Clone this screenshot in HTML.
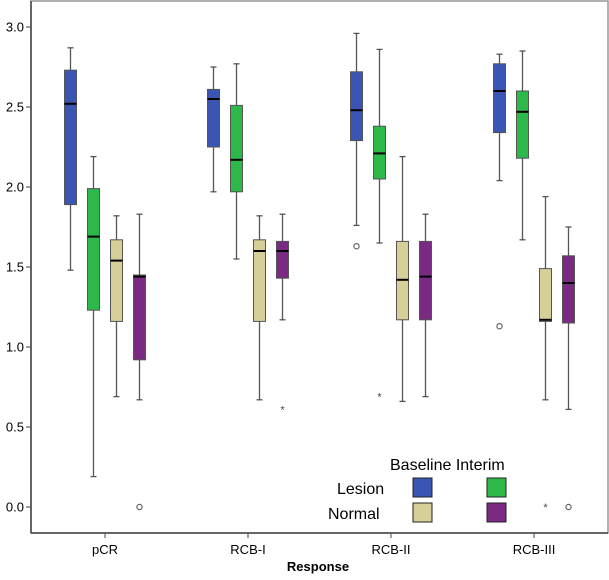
<!DOCTYPE html>
<html><head><meta charset="utf-8"><style>
body{margin:0;background:#fff;font-family:"Liberation Sans",sans-serif}
svg text{font-family:"Liberation Sans",sans-serif}
</style></head><body>
<svg id="c" width="609" height="575" viewBox="0 0 609 575" xmlns="http://www.w3.org/2000/svg">
<rect x="31" y="1" width="577" height="532" fill="#fff" stroke="#999" stroke-width="1.5"/>
<line x1="31" y1="1" x2="31" y2="533" stroke="#444" stroke-width="1.5"/>
<line x1="31" y1="533" x2="608" y2="533" stroke="#444" stroke-width="1.5"/>
<g id="marks"></g>
<g id="axes"></g>
<g>
<text x="390" y="470" font-size="16">Baseline Interim</text>
<text x="337" y="494" font-size="16">Lesion</text>
<text x="328" y="519" font-size="16">Normal</text>
<rect x="413" y="478" width="19" height="19" fill="#3b55b5" stroke="#222"/>
<rect x="487" y="478" width="19" height="19" fill="#2db84a" stroke="#222"/>
<rect x="413" y="503" width="19" height="19" fill="#d6cf98" stroke="#222"/>
<rect x="487" y="503" width="19" height="19" fill="#7a2a82" stroke="#222"/>
</g>
<text x="318" y="571" font-size="13" font-weight="bold" text-anchor="middle">Response</text>
</svg>
<script>
const categories=["pCR","RCB-I","RCB-II","RCB-III"];
const seriesNames=["lesion-baseline","lesion-interim","normal-baseline","normal-interim"];
const seriesColors=["#3b55b5","#2db84a","#d6cf98","#7a2a82"];
// [min,q1,median,q3,max] per category
const lesionBaseline=[[1.48,1.89,2.52,2.73,2.87],[1.97,2.25,2.55,2.61,2.75],[1.76,2.29,2.48,2.72,2.96],[2.04,2.34,2.60,2.77,2.83]];
const lesionInterim=[[0.19,1.23,1.69,1.99,2.19],[1.55,1.97,2.17,2.51,2.77],[1.65,2.05,2.21,2.38,2.86],[1.67,2.18,2.47,2.60,2.85]];
const normalBaseline=[[0.69,1.16,1.54,1.67,1.82],[0.67,1.16,1.60,1.67,1.82],[0.66,1.17,1.42,1.66,2.19],[0.67,1.16,1.17,1.49,1.94]];
const normalInterim=[[0.67,0.92,1.44,1.45,1.83],[1.17,1.43,1.60,1.66,1.83],[0.69,1.17,1.44,1.66,1.83],[0.61,1.15,1.40,1.57,1.75]];
// outliers: [categoryIndex, seriesIndex, value, type]
const outliers=[[0,3,0.0,"o"],[1,3,0.61,"*"],[2,0,1.63,"o"],[2,1,0.69,"*"],[3,0,1.13,"o"],[3,2,0.0,"*"],[3,3,0.0,"o"]];
const yTicks=[0,0.5,1,1.5,2,2.5,3];
const yTickLabels=["0.0","0.5","1.0","1.5","2.0","2.5","3.0"];
const NS="http://www.w3.org/2000/svg";
const y=v=>507-v*160;
const xc=i=>105+i*143;
const off=[-34.5,-11.5,11.5,34.5];
const bw=12;
function mk(t,a,p){const e=document.createElementNS(NS,t);for(const k in a)e.setAttribute(k,a[k]);p.appendChild(e);return e;}
const marks=document.getElementById('marks'),axes=document.getElementById('axes');
const allSeries=[lesionBaseline,lesionInterim,normalBaseline,normalInterim];
allSeries.forEach((s,si)=>{s.forEach((d,ci)=>{
 const cx=xc(ci)+off[si];
 const g=mk('g',{},marks);
 
 
 mk('line',{x1:cx,x2:cx,y1:y(d[4]),y2:y(d[0]),stroke:'#555','stroke-width':1.3},g);
 mk('line',{x1:cx-3,x2:cx+3,y1:y(d[4]),y2:y(d[4]),stroke:'#555','stroke-width':1.3},g);
 mk('line',{x1:cx-3,x2:cx+3,y1:y(d[0]),y2:y(d[0]),stroke:'#555','stroke-width':1.3},g);
 mk('rect',{x:cx-bw/2,y:y(d[3]),width:bw,height:y(d[1])-y(d[3]),fill:seriesColors[si],stroke:'#555','stroke-width':1},g);
 mk('line',{x1:cx-bw/2,x2:cx+bw/2,y1:y(d[2]),y2:y(d[2]),stroke:'#000','stroke-width':2},g);
});});
outliers.forEach(o=>{
 const cx=xc(o[0])+off[o[1]];
 let e;
 if(o[3]==="o"){e=mk('circle',{cx:cx,cy:y(o[2]),r:2.6,fill:'none',stroke:'#666','stroke-width':1.2},marks);}
 else{e=mk('text',{x:cx,y:y(o[2])+4,'font-size':11,'text-anchor':'middle',fill:'#444'},marks);e.textContent='*';}
 
 
});
yTicks.forEach((v,i)=>{
 const l=mk('line',{x1:26,x2:31,y1:y(v),y2:y(v),stroke:'#444'},axes);
 
 
 const t=mk('text',{x:24,y:y(v)+4.5,'font-size':13,'text-anchor':'end'},axes);
 t.textContent=yTickLabels[i];
 
 
});
categories.forEach((c,i)=>{
 const l=mk('line',{x1:xc(i),x2:xc(i),y1:533,y2:538,stroke:'#444'},axes);
 
 
 const t=mk('text',{x:xc(i),y:554,'font-size':13,'text-anchor':'middle'},axes);
 t.textContent=c;
 
 
});
</script>
</body></html>
